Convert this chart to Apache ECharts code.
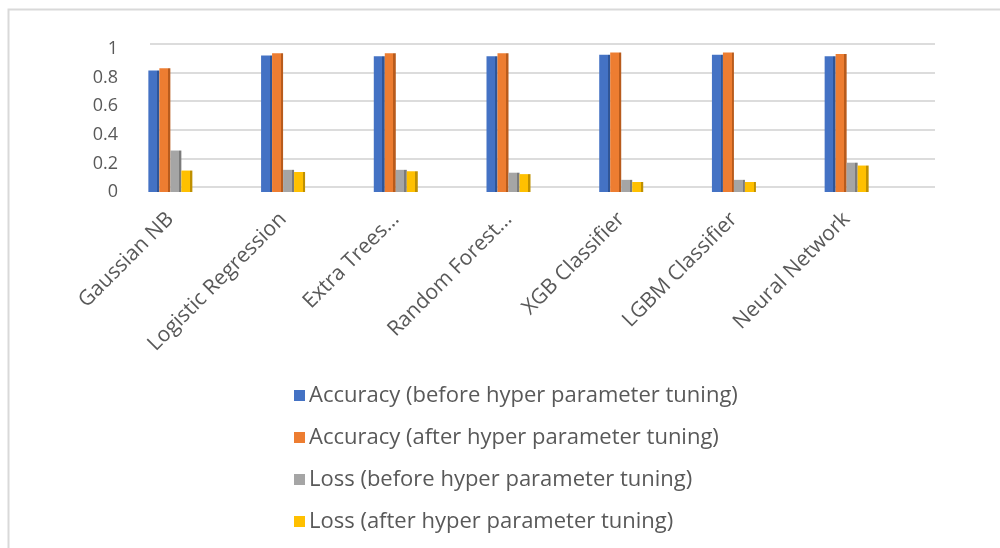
<!DOCTYPE html>
<html>
<head>
<meta charset="utf-8">
<script src="https://cdn.jsdelivr.net/npm/echarts@6/dist/echarts.min.js"></script>
<style>
  html, body { margin: 0; padding: 0; background: #fff; }
  #chart { width: 1000px; height: 548px; }
</style>
</head>
<body>
<div id="chart"></div>
<script>
// Model comparison: accuracy and loss before / after hyper parameter tuning
const categories = ['Gaussian NB', 'Logistic Regression', 'Extra Trees…', 'Random Forest…', 'XGB Classifier', 'LGBM Classifier', 'Neural Network'];
const accuracyBefore = [0.85, 0.955, 0.95, 0.95, 0.96, 0.96, 0.95];
const accuracyAfter  = [0.865, 0.97, 0.97, 0.97, 0.975, 0.975, 0.965];
const lossBefore     = [0.29, 0.155, 0.155, 0.135, 0.085, 0.085, 0.205];
const lossAfter      = [0.15, 0.14, 0.145, 0.125, 0.07, 0.07, 0.185];
const yTicks = [0, 0.2, 0.4, 0.6, 0.8, 1];

const seriesNames = [
  'Accuracy (before hyper parameter tuning)',
  'Accuracy (after hyper parameter tuning)',
  'Loss (before hyper parameter tuning)',
  'Loss (after hyper parameter tuning)'
];
const seriesData = [accuracyBefore, accuracyAfter, lossBefore, lossAfter];
const colors = ['#4472C4', '#ED7D31', '#A5A5A5', '#FFC000'];
const sideColors = ['#2F5597', '#B85B1C', '#7B7B7B', '#BF9000'];

const FONT = '"Open Sans", "Liberation Sans", sans-serif';
const TEXT = '#595959';

// column with a darker right side face
function faceFill(i) {
  return {
    type: 'linear', x: 0, y: 0, x2: 1, y2: 0,
    colorStops: [
      { offset: 0, color: colors[i] },
      { offset: 0.78, color: colors[i] },
      { offset: 0.78, color: sideColors[i] },
      { offset: 1, color: sideColors[i] }
    ]
  };
}

const chart = echarts.init(document.getElementById('chart'), null, { renderer: 'canvas' });

const option = {
  backgroundColor: '#fff',
  animation: false,
  graphic: [{
    type: 'rect', z: -10,
    shape: { x: 8.5, y: 9.5, width: 1100, height: 700 },
    style: { fill: 'none', stroke: '#d9d9d9', lineWidth: 2 }
  }],
  legend: {
    orient: 'vertical',
    left: 289, top: 379,
    itemWidth: 11, itemHeight: 11, itemGap: 19,
    icon: 'rect',
    textStyle: { color: TEXT, fontFamily: FONT, fontSize: 22, lineHeight: 23, padding: [0, 0, 0, -1] },
    data: seriesNames.map((n, i) => ({ name: n, itemStyle: { color: colors[i] } }))
  },
  grid: [
    // back wall carrying the gridlines
    { left: 150, right: 65, top: 44, height: 143 },
    // front plane carrying the columns
    { left: 114, width: 789, top: 49, height: 143 }
  ],
  xAxis: [
    { gridIndex: 0, type: 'value', show: false, min: 0, max: 1 },
    {
      gridIndex: 1, type: 'category', data: categories,
      axisLine: { show: false }, axisTick: { show: false },
      axisLabel: {
        rotate: 45, margin: 24, interval: 0,
        color: TEXT, fontFamily: FONT, fontSize: 21
      }
    }
  ],
  yAxis: [
    {
      gridIndex: 0, type: 'value', min: 0, max: 1, interval: 0.2,
      axisLine: { show: false }, axisTick: { show: false }, axisLabel: { show: false },
      splitLine: { lineStyle: { color: '#dcdcdc', width: 2 } }
    },
    {
      gridIndex: 1, type: 'value', min: 0, max: 1, interval: 0.2,
      axisLine: { show: false }, axisTick: { show: false },
      splitLine: { show: false },
      axisLabel: {
        margin: -4, color: TEXT, fontFamily: FONT, fontSize: 18,
        formatter: v => (yTicks.includes(Math.round(v * 10) / 10) ? String(Math.round(v * 10) / 10) : '')
      }
    }
  ],
  series: seriesNames.map((name, i) => ({
    name, type: 'bar',
    xAxisIndex: 1, yAxisIndex: 1,
    data: seriesData[i],
    barWidth: 11, barGap: '0%',
    itemStyle: { color: faceFill(i) }
  }))
};

chart.setOption(option);
</script>
</body>
</html>
